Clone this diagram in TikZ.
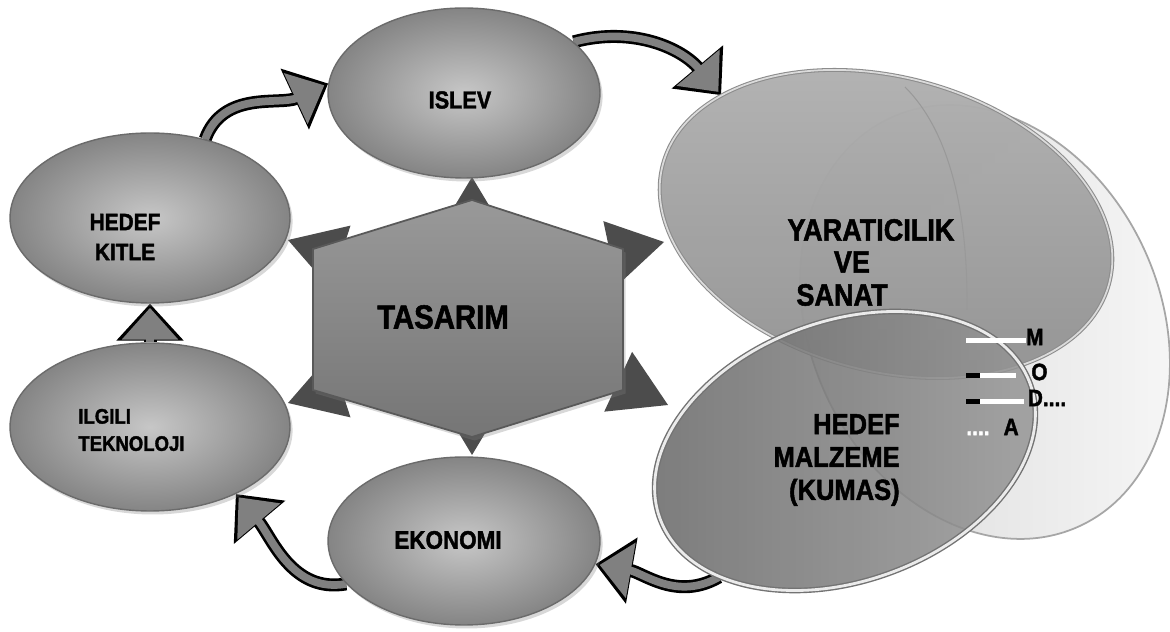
\documentclass[tikz,border=0pt]{standalone}
\usepackage{fontspec}
\newfontfamily\diafont{Liberation Sans}[UprightFont={* Bold},FakeStretch=0.88,FakeBold=1.6]
\usepackage{tikz}
\usetikzlibrary{shapes.geometric,arrows.meta,shadows,backgrounds}

\begin{document}
\begin{tikzpicture}[x=0.02cm, y=0.02cm,
  bubble/.style={ellipse, draw=black!58, line width=0.8pt,
    inner color=black!22, outer color=black!48,
    drop shadow={opacity=0.3, shadow xshift=1.5pt, shadow yshift=-2pt}},
  ray/.style={fill=black!70},
  flow/.style={draw=black, line width=7.4pt, -{Triangle[length=21pt,width=37pt]},
    postaction={draw=black!50, line width=4.4pt, shorten >=2.4pt,
      -{Triangle[length=18pt,width=31pt]}}},
  lbl/.style 2 args={font=\diafont\fontsize{#1}{#2}\selectfont, inner sep=0pt},
]
\useasboundingbox (0,0) rectangle (1170,632);

% Back: big light ellipse
\node (moda) [ellipse, minimum width=7cm, minimum height=9.0cm, rotate=25,
  left color=black!16, right color=black!3, draw=black!35, line width=1pt] at (985,310) {};

% Right: YARATICILIK VE SANAT
\node (yarat) [ellipse, minimum width=9.24cm, minimum height=5.88cm, rotate=-15,
  top color=black!30, bottom color=black!42, fill opacity=0.97,
  draw=black!45, line width=0.6pt, double=black!14, double distance=1pt] at (886,408) {};
\draw[black!40, line width=0.6pt] (905,545) .. controls (950,500) and (968,420) .. (967,322);

% Right: HEDEF MALZEME
\node (malzeme) [ellipse, minimum width=7.88cm, minimum height=5.2cm, rotate=20,
  left color=black!60, right color=black!40, fill opacity=0.86,
  draw=black!55, line width=0.8pt, double=black!8, double distance=1.6pt] at (845,181) {};

% Rays behind the hexagon
\foreach \tx/\ty/\ang in {472/455/90, 472/177/270, 288/392/162, 288/229/198, 664/390/12, 668/227/335}
  \fill[ray, shift={(\tx,\ty)}, rotate=\ang] (0,0) -- (-55,33) -- (-55,-33) -- cycle;

% Centre: TASARIM
\draw[black!65, line width=1pt, top color=black!40, bottom color=black!54,
  drop shadow={opacity=0.3, shadow xshift=1.5pt, shadow yshift=-2pt}]
  (313,383) -- (472,432) -- (623,383) -- (623,242) -- (472,195) -- (313,242) -- cycle;
\node (tasarim) [lbl={19}{22}] at (443,315) {TASARIM};

% Ring of ellipses
\node (islev) [bubble, minimum width=5.44cm, minimum height=3.4cm] at (464,539) {};
\node (kitle) [bubble, minimum width=5.6cm, minimum height=3.4cm] at (150,414) {};
\node (ilgili) [bubble, minimum width=5.6cm, minimum height=3.36cm] at (150,205) {};
\node (ekonomi) [bubble, minimum width=5.44cm, minimum height=3.36cm] at (464,91) {};

\node (islevt) [lbl={14}{17}] at (460,532) {ISLEV};
\node (kitlet) [lbl={13.5}{17}, align=center] at (125,395) {HEDEF\\KITLE};
\node (ilgilit) [lbl={12}{15.5}, align=left, anchor=west] at (78,202) {ILGILI\\TEKNOLOJI};
\node (ekonomit) [lbl={14.5}{17}] at (448,92) {EKONOMI};

\node (yaratt) [lbl={17.5}{20}] at (871,402) {YARATICILIK};
\node (ve) [lbl={17.5}{20}] at (852,370) {VE};
\node (sanat) [lbl={17.5}{20}] at (842,337) {SANAT};
\node (malzemet) [lbl={16.5}{18.7}, align=right, anchor=east] at (900,172) {HEDEF\\MALZEME\\(KUMAS)};

% M O D A
\node (mrow) [lbl={13.5}{16}, anchor=west] at (966,295)
  {\textcolor{white}{\rule[1.5pt]{34pt}{2.6pt}}M};
\node (orow) [lbl={13.5}{16}, anchor=west] at (966,260)
  {\rule[1.5pt]{8pt}{2.6pt}\textcolor{white}{\rule[1.5pt]{20pt}{2.6pt}}\hspace{9pt}O};
\node (drow) [lbl={13.5}{16}, anchor=west] at (966,234)
  {\rule[1.5pt]{8pt}{2.6pt}\textcolor{white}{\rule[1.5pt]{25pt}{2.6pt}}\hspace{2pt}D....};
\node (arow) [lbl={13.5}{16}, anchor=west] at (966,205)
  {\textcolor{white}{....}\hspace{8pt}A};

% Cycle arrows
\begin{scope}[on background layer]
\fill[white] (0,0) rectangle (1170,632);
\draw[flow] (kitle.55) to[out=70, in=205] (islev.176);
\draw[flow] (islev.25) to[out=15, in=130] (yarat.157);
\draw[flow] (malzeme.205) to[out=210, in=-10] (ekonomi.350);
\draw[flow] (ekonomi.200) to[out=190, in=-50] (ilgili.-38);
\draw[flow] (ilgili.north) -- (kitle.south);
\end{scope}

\end{tikzpicture}
\end{document}
